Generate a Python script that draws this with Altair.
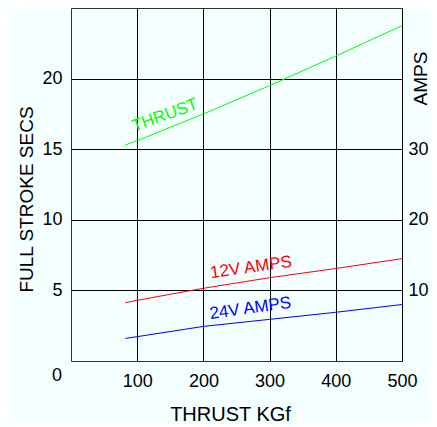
import altair as alt
import pandas as pd

# Data
thrust_kgf = [82, 100, 200, 300, 400, 500]
thrust_secs = [15.3, 15.6, 17.5, 19.5, 21.6, 23.75]
amps_12v = [8.25, 8.6, 10.3, 11.8, 13.1, 14.5]
amps_24v = [3.2, 3.45, 4.9, 5.9, 6.9, 8.0]

x_ticks = [100, 200, 300, 400, 500]
secs_ticks = [5, 10, 15, 20]
amps_ticks = [10, 20, 30]

FONT = "Liberation Sans"

df_thrust = pd.DataFrame({"kgf": thrust_kgf, "secs": thrust_secs})
df_amps = pd.DataFrame({
    "kgf": thrust_kgf * 2,
    "amps": amps_12v + amps_24v,
    "series": ["12V AMPS"] * len(thrust_kgf) + ["24V AMPS"] * len(thrust_kgf),
})

xscale = alt.Scale(domain=[0, 500], nice=False)
secs_scale = alt.Scale(domain=[0, 25], nice=False)
amps_scale = alt.Scale(domain=[0, 50], nice=False)

x_axis = alt.Axis(
    values=x_ticks, title="THRUST KGf", grid=True, gridColor="black",
    gridWidth=1, gridOpacity=1, ticks=False, domain=False,
    labelFontSize=18, labelColor="black", labelFont=FONT,
    labelBaseline="alphabetic", labelPadding=25, labelFlush=False,
    titleFontSize=20, titleFontWeight="normal", titleColor="black",
    titleFont=FONT, titleX=159, titleY=59, titleBaseline="alphabetic",
    titleAlign="center",
)
secs_axis = alt.Axis(
    values=secs_ticks, title="FULL STROKE SECS", grid=True,
    gridColor="black", gridWidth=1, gridOpacity=1, ticks=False,
    domain=False, labelFontSize=18, labelColor="black", labelFont=FONT,
    labelPadding=9, labelFlush=False, titleFontSize=19, titleFontWeight="normal",
    titleColor="black", titleFont=FONT, titleAngle=270, titleX=-39,
    titleY=191, titleBaseline="alphabetic", titleAlign="center",
)
amps_axis = alt.Axis(
    orient="right", values=amps_ticks, title="AMPS", grid=False,
    ticks=False, domain=False, labelFontSize=18, labelColor="black",
    labelFont=FONT, labelPadding=6, labelAlign="left", labelFlush=False,
    titleFontSize=19, titleFontWeight="normal", titleColor="black",
    titleFont=FONT, titleAngle=270, titleX=24, titleY=70,
    titleBaseline="alphabetic", titleAlign="center",
)

color_scale = alt.Scale(domain=["12V AMPS", "24V AMPS"], range=["#FF0000", "#0000FF"])

thrust_line = alt.Chart(df_thrust).mark_line(color="#00FF00", strokeWidth=1).encode(
    x=alt.X("kgf:Q", scale=xscale, axis=x_axis),
    y=alt.Y("secs:Q", scale=secs_scale, axis=secs_axis),
)

thrust_lbl = pd.DataFrame({"kgf": [142], "secs": [17.4], "t": ["THRUST"]})
thrust_text = alt.Chart(thrust_lbl).mark_text(
    color="#00FF00", fontSize=17, font=FONT, angle=340, align="center",
    baseline="middle",
).encode(
    x=alt.X("kgf:Q", scale=xscale, axis=x_axis),
    y=alt.Y("secs:Q", scale=secs_scale, axis=secs_axis),
    text="t:N",
)

zero_df = pd.DataFrame({"kgf": [0], "secs": [0], "t": ["0"]})
zero_text = alt.Chart(zero_df).mark_text(
    color="black", fontSize=18, font=FONT, align="right",
    baseline="alphabetic", dx=-9, dy=20,
).encode(
    x=alt.X("kgf:Q", scale=xscale, axis=x_axis),
    y=alt.Y("secs:Q", scale=secs_scale, axis=secs_axis),
    text="t:N",
)

left = alt.layer(thrust_line, thrust_text, zero_text)

amps_lines = alt.Chart(df_amps).mark_line(strokeWidth=1).encode(
    x=alt.X("kgf:Q", scale=xscale, axis=x_axis),
    y=alt.Y("amps:Q", scale=amps_scale, axis=amps_axis),
    color=alt.Color("series:N", scale=color_scale, legend=None),
    detail="series:N",
)

amps_lbl = pd.DataFrame({
    "kgf": [272, 271],
    "amps": [13.25, 7.45],
    "series": ["12V AMPS", "24V AMPS"],
})
amps_text = alt.Chart(amps_lbl).mark_text(
    fontSize=17, font=FONT, angle=352, align="center", baseline="middle",
).encode(
    x=alt.X("kgf:Q", scale=xscale, axis=x_axis),
    y=alt.Y("amps:Q", scale=amps_scale, axis=amps_axis),
    text="series:N",
    color=alt.Color("series:N", scale=color_scale, legend=None),
)

right = alt.layer(amps_lines, amps_text)

chart = alt.layer(left, right).resolve_scale(y="independent").properties(
    width=331,
    height=353,
    background="#F4FFFF",
    autosize=alt.AutoSizeParams(type="none"),
    padding={"left": 63, "top": 0, "right": 27, "bottom": 63},
).configure_view(stroke="#333333", strokeWidth=1)

chart.save("out.html", embed_options={"renderer": "svg", "actions": False})
